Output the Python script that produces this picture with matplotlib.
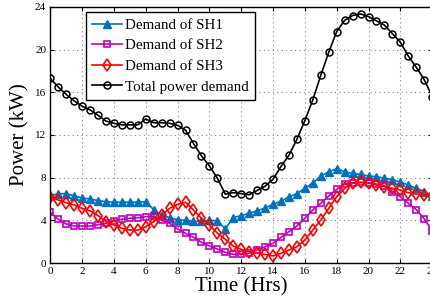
import numpy as np
import matplotlib
matplotlib.use('Agg')
import matplotlib.pyplot as plt

# half-hour time slots, 0 to 24 hrs
hours = np.arange(0, 24.5, 0.5)

sh1 = [6.3, 6.5, 6.5, 6.3, 6.1, 6.0, 5.85, 5.75, 5.7, 5.7, 5.7, 5.7, 5.75,
       5.0, 4.5, 4.25, 4.05, 4.0, 3.9, 3.9, 4.0, 3.95, 3.2, 4.25, 4.45,
       4.65, 4.9, 5.15, 5.5, 5.8, 6.2, 6.5, 7.0, 7.5, 8.15, 8.55, 8.85,
       8.55, 8.4, 8.3, 8.15, 8.1, 7.95, 7.8, 7.6, 7.3, 7.0, 6.7, 6.3]
sh2 = [4.75, 4.1, 3.66, 3.47, 3.47, 3.47, 3.59, 3.72, 3.94, 4.1, 4.19,
       4.25, 4.34, 4.4, 4.03, 3.72, 3.19, 2.78, 2.41, 1.94, 1.6, 1.31,
       1.0, 0.81, 0.81, 0.91, 1.22, 1.53, 1.84, 2.41, 2.94, 3.47, 4.19,
       4.97, 5.59, 6.28, 6.9, 7.37, 7.53, 7.56, 7.53, 7.4, 7.25, 6.68,
       6.22, 5.6, 5.0, 4.15, 3.0]
sh3 = [6.22, 5.9, 5.65, 5.44, 5.12, 4.9, 4.44, 3.88, 3.56, 3.25, 3.09,
       3.09, 3.4, 3.88, 4.5, 5.12, 5.5, 5.69, 4.97, 4.19, 3.56, 2.8,
       2.22, 1.59, 1.28, 1.06, 0.91, 0.81, 0.66, 0.91, 1.22, 1.53, 2.16,
       3.09, 4.03, 5.12, 6.22, 7.0, 7.47, 7.56, 7.47, 7.31, 7.15, 7.0,
       6.84, 6.59, 6.47, 6.37, 6.3]
total = [17.3, 16.5, 15.8, 15.2, 14.7, 14.35, 13.85, 13.3, 13.1, 12.95,
         12.95, 12.95, 13.5, 13.15, 13.15, 13.1, 12.9, 12.45, 11.2, 10.05,
         9.1, 7.95, 6.45, 6.6, 6.5, 6.4, 6.8, 7.2, 7.85, 9.05, 10.1, 11.6,
         13.35, 15.3, 17.6, 19.75, 21.7, 22.75, 23.2, 23.35, 23.1, 22.7,
         22.3, 21.5, 20.7, 19.4, 18.35, 17.2, 15.6]

labels = ['Demand of SH1', 'Demand of SH2', 'Demand of SH3', 'Total power demand']

plt.rcParams['font.family'] = ['Liberation Serif', 'DejaVu Serif']

fig = plt.figure(figsize=(4.31, 3.07), dpi=100)
ax = fig.add_axes([0.1167, 0.1433, 0.886, 0.834])

ax.plot(hours, sh1, '-^', color='#0072BD', lw=1.2, ms=6, mfc='#0072BD', label=labels[0])
ax.plot(hours, sh2, '-s', color='#BF00BF', lw=1.2, ms=4.5, mfc='none', mew=1.2, label=labels[1])
ax.plot(hours, sh3, '-d', color='red', lw=1.2, ms=6, mfc='none', mew=1.2, label=labels[2])
ax.plot(hours, total, '-o', color='black', lw=1.2, ms=5, mfc='none', mew=1.1, label=labels[3])

ax.set_xlim(0, 24)
ax.set_ylim(0, 24)
ax.set_xticks(np.arange(0, 25, 2))
ax.set_yticks(np.arange(0, 25, 4))
ax.tick_params(direction='in', top=True, right=True, labelsize=8, length=3, pad=3)
ax.grid(True, linestyle=(0, (1, 3)), color='#888888', lw=0.8)
for s in ax.spines.values():
    s.set_linewidth(1.0)

ax.set_xlabel('Time (Hrs)', fontsize=15, labelpad=1)
ax.set_ylabel('Power (kW)', fontsize=15, labelpad=4)

leg = ax.legend(loc='upper left', bbox_to_anchor=(0.093, 0.98), fontsize=10.8,
                fancybox=False, edgecolor='black', framealpha=1,
                handlelength=2.0, handletextpad=0.2, labelspacing=0.47,
                borderpad=0.42, borderaxespad=0)
leg.get_frame().set_linewidth(1.0)

plt.savefig('out.png', dpi=100)
